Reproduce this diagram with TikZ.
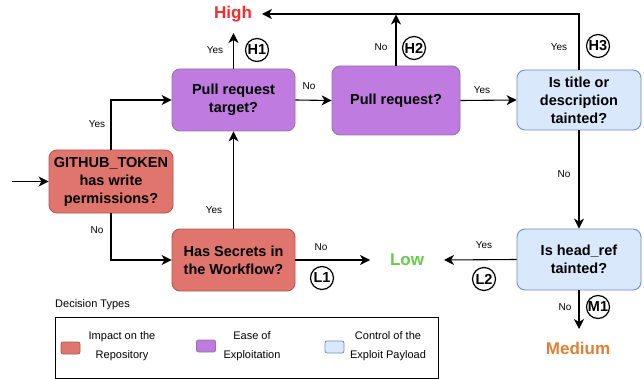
\documentclass[tikz,border=0pt]{standalone}
\usepackage{fontspec}
\setmainfont{Liberation Sans}
\usetikzlibrary{arrows.meta}

\definecolor{impactfill}{HTML}{E0756E}
\definecolor{impactdraw}{HTML}{B85450}
\definecolor{easefill}{HTML}{BF7BE0}
\definecolor{easedraw}{HTML}{9673A6}
\definecolor{ctrlfill}{HTML}{DAE8FC}
\definecolor{ctrldraw}{HTML}{6C8EBF}
\definecolor{highcol}{HTML}{FF2A2A}
\definecolor{lowcol}{HTML}{66CC44}
\definecolor{medcol}{HTML}{E07F35}

\tikzset{
  decision/.style={rounded corners=8pt, line width=0.9pt, align=center,
    font=\fontsize{14.5}{18}\selectfont\bfseries, inner sep=0pt},
  impact/.style={decision, fill=impactfill, draw=impactdraw},
  ease/.style={decision, fill=easefill, draw=easedraw},
  ctrl/.style={decision, fill=ctrlfill, draw=ctrldraw},
  outcome/.style={font=\fontsize{17}{20}\selectfont\bfseries},
  flow/.style={line width=1.1pt, -{Stealth[length=10pt,width=10pt,inset=3pt]}},
  edgelabel/.style={font=\fontsize{10}{12}\selectfont, inner sep=0pt},
  tag/.style={circle, draw, line width=1.2pt, minimum size=23pt, inner sep=0pt,
    fill=white, font=\fontsize{14.5}{16}\selectfont\bfseries},
  legendtext/.style={font=\fontsize{11}{19}\selectfont, align=center, inner sep=0pt},
  swatch/.style={rounded corners=2pt, line width=0.8pt, minimum width=19pt,
    minimum height=12pt, inner sep=0pt},
}

\begin{document}
\begin{tikzpicture}[x=1pt, y=-1pt]
\useasboundingbox (0,0) rectangle (644,379);

% decision boxes
\node[impact, minimum width=124pt, minimum height=63pt] (gt) at (111,181.5)
  {GITHUB\_TOKEN\\has write\\permissions?};
\node[ease, minimum width=123pt, minimum height=62pt] (prt) at (233.5,100)
  {Pull request\\target?};
\node[ease, minimum width=128pt, minimum height=69pt] (pr) at (396,100.5)
  {Pull request?};
\node[ctrl, minimum width=124pt, minimum height=60pt] (title) at (579,100)
  {Is title or\\description\\tainted?};
\node[impact, minimum width=123pt, minimum height=62pt] (hs) at (233.5,260)
  {Has Secrets in\\the Workflow?};
\node[ctrl, minimum width=124pt, minimum height=61pt] (hr) at (579,259.5)
  {Is head\_ref\\tainted?};

% outcomes
\node[outcome, text=highcol] (high) at (233,14) {High};
\node[outcome, text=lowcol] (low) at (407,260) {Low};
\node[outcome, text=medcol] (medium) at (578,348) {Medium};

% free connector ends
\coordinate (start) at (12,181.5);
\coordinate (hightip) at (262,14);
\coordinate (h1tip) at (233.5,33);
\coordinate (l1tip) at (370,260);
\coordinate (l2tip) at (444,260);
\coordinate (m1tip) at (579,329);

% connectors
\draw[flow] (start) -- (gt.west);
\draw[flow] (gt.north) |- (prt.west);
\draw[flow] (gt.south) |- (hs.west);
\draw[flow] (hs.north) -- (prt.south);
\draw[flow] (prt.east) -- (pr.west);
\draw[flow] (pr.east) -- (title.west);
\draw[flow] (prt.north) -- (h1tip);
\draw[flow] (title.north) |- (hightip);
\draw[flow] (pr.north) -- (pr.north |- 0,14.5);
\draw[flow] (title.south) -- (hr.north);
\draw[flow] (hs.east) -- (l1tip);
\draw[flow] (hr.west) -- (l2tip);
\draw[flow] (hr.south) -- (m1tip);

% edge labels
\node[edgelabel] (lgtyes) at (97,124) {Yes};
\node[edgelabel] (lgtno) at (97,230) {No};
\node[edgelabel] (lhsyes) at (214,210) {Yes};
\node[edgelabel] (lprtno) at (309,86) {No};
\node[edgelabel] (lprtyes) at (215,50) {Yes};
\node[edgelabel] (lprno) at (381,47) {No};
\node[edgelabel] (lpryes) at (482,90) {Yes};
\node[edgelabel] (ltyes) at (559,47) {Yes};
\node[edgelabel] (ltno) at (564,174) {No};
\node[edgelabel] (lhsno) at (321,247) {No};
\node[edgelabel] (lhryes) at (484,245) {Yes};
\node[edgelabel] (lhrno) at (565,307) {No};

% rule tags
\node[tag] (h1) at (257,50) {H1};
\node[tag] (h2) at (414,48) {H2};
\node[tag] (h3) at (598,46) {H3};
\node[tag] (l1) at (322,278) {L1};
\node[tag] (l2) at (484,279) {L2};
\node[tag] (m1) at (598,307) {M1};

% legend
\node[font=\fontsize{11}{13}\selectfont, anchor=west, inner sep=0pt] (legtitle) at (55,305) {Decision Types};
\draw[line width=1pt] (55,317) rectangle (438,378);
\node[swatch, fill=impactfill, draw=impactdraw] (swimpact) at (70.5,348) {};
\node[legendtext] (timpact) at (122,346.5) {Impact on the\\Repository};
\node[swatch, fill=easefill, draw=easedraw] (swease) at (206,346) {};
\node[legendtext] (tease) at (252,346.5) {Ease of\\Exploitation};
\node[swatch, fill=ctrlfill, draw=ctrldraw] (swctrl) at (334.5,347) {};
\node[legendtext] (tctrl) at (388,346.5) {Control of the\\Exploit Payload};
\end{tikzpicture}
\end{document}
